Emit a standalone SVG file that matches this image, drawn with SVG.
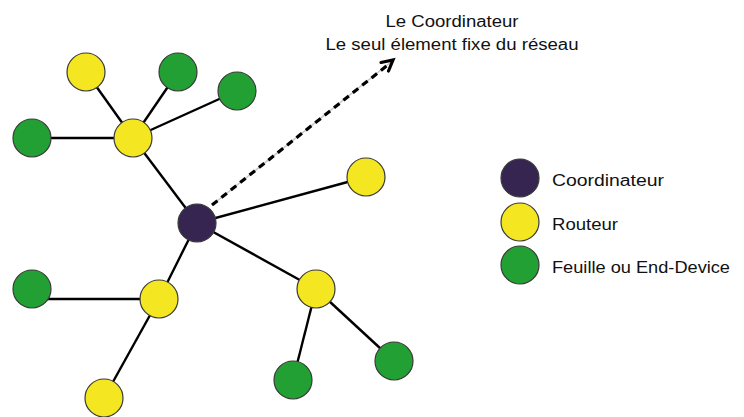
<svg xmlns="http://www.w3.org/2000/svg" width="744" height="417" viewBox="0 0 744 417">
<style>
.n{stroke:#3a3a3a;stroke-width:1.2}
.c{fill:#362550}
.r{fill:#f4e620}
.f{fill:#22a033}
.e{stroke:#000;stroke-width:2.4;fill:none}
text{font-family:"Liberation Sans",Arial,sans-serif;font-size:16px;fill:#111}
</style>
<g id="connectors">
<line class="e" x1="133" y1="138" x2="86" y2="72"/>
<line class="e" x1="133" y1="138" x2="178" y2="72"/>
<line class="e" x1="133" y1="138" x2="237" y2="91"/>
<line class="e" x1="133" y1="138" x2="32" y2="138"/>
<line class="e" x1="133" y1="138" x2="197" y2="223"/>
<line class="e" x1="197" y1="223" x2="366" y2="177"/>
<line class="e" x1="197" y1="223" x2="316" y2="289"/>
<line class="e" x1="197" y1="223" x2="159" y2="299"/>
<line class="e" x1="45" y1="299" x2="159" y2="299"/>
<line class="e" x1="159" y1="299" x2="104" y2="398"/>
<line class="e" x1="316" y1="289" x2="394" y2="361"/>
<line class="e" x1="316" y1="289" x2="293" y2="380"/>
<g id="arrow">
<line x1="212" y1="205" x2="391" y2="62" stroke="#c8c8c8" stroke-width="1.5"/>
<line x1="212" y1="205" x2="389" y2="64" stroke="#000" stroke-width="3.2" stroke-dasharray="7,5"/>
<path d="M381,62.5 L393,60 L388.5,71" fill="none" stroke="#000" stroke-width="3.2" stroke-linejoin="miter" stroke-linecap="round"/>
</g>
</g>
<g id="n-coord"><circle class="n c" cx="197" cy="223" r="19"/></g>
<g id="n-r1"><circle class="n r" cx="133" cy="138" r="19"/></g>
<g id="n-r2"><circle class="n r" cx="86" cy="72" r="19"/></g>
<g id="n-f1"><circle class="n f" cx="178" cy="72" r="19"/></g>
<g id="n-f2"><circle class="n f" cx="237" cy="91" r="19"/></g>
<g id="n-f3"><circle class="n f" cx="32" cy="138" r="19"/></g>
<g id="n-r3"><circle class="n r" cx="366" cy="177" r="19"/></g>
<g id="n-r4"><circle class="n r" cx="316" cy="289" r="19"/></g>
<g id="n-f4"><circle class="n f" cx="394" cy="361" r="19"/></g>
<g id="n-f5"><circle class="n f" cx="293" cy="380" r="19"/></g>
<g id="n-r5"><circle class="n r" cx="159" cy="299" r="19"/></g>
<g id="n-f6"><circle class="n f" cx="32" cy="289" r="19"/></g>
<g id="n-r6"><circle class="n r" cx="104" cy="398" r="19"/></g>
<g id="title">
<text x="452" y="27" text-anchor="middle" textLength="133" lengthAdjust="spacingAndGlyphs">Le Coordinateur</text>
<text x="452" y="50" text-anchor="middle" textLength="253" lengthAdjust="spacingAndGlyphs">Le seul élement fixe du réseau</text>
</g>
<g id="legend">
<circle class="n c" cx="520" cy="178" r="19"/>
<text x="552" y="186" textLength="112" lengthAdjust="spacingAndGlyphs">Coordinateur</text>
<circle class="n r" cx="520" cy="222" r="19"/>
<text x="552" y="230" textLength="66" lengthAdjust="spacingAndGlyphs">Routeur</text>
<circle class="n f" cx="520" cy="265" r="19"/>
<text x="552" y="273" textLength="178" lengthAdjust="spacingAndGlyphs">Feuille ou End-Device</text>
</g>
</svg>
